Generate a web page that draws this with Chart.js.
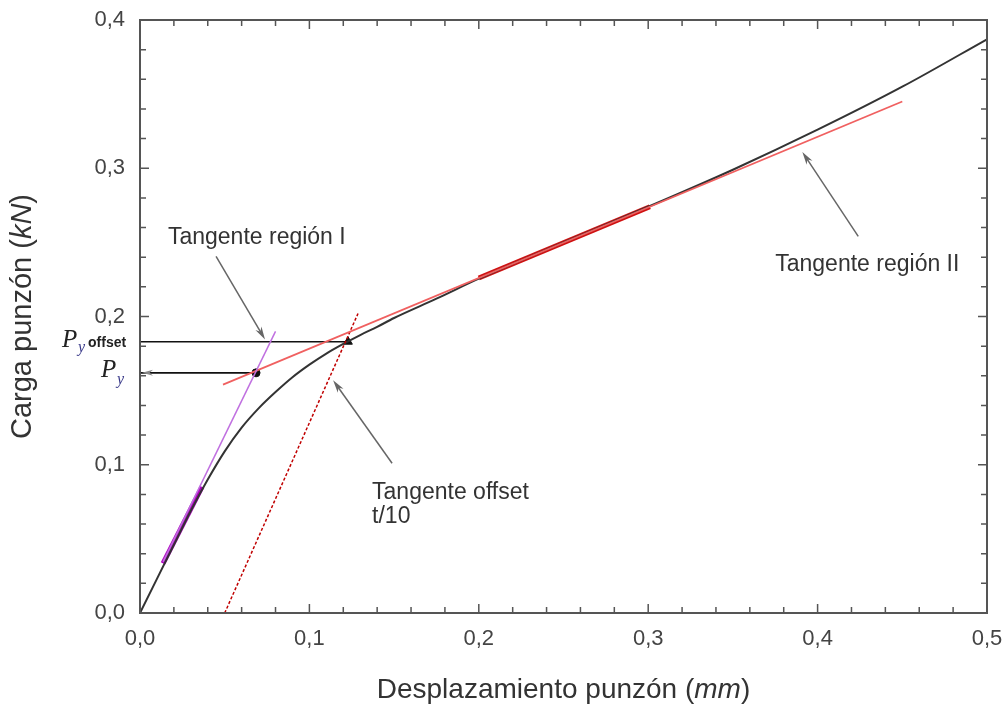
<!DOCTYPE html>
<html>
<head>
<meta charset="utf-8">
<script src="https://cdn.jsdelivr.net/npm/chart.js@4.4.0/dist/chart.umd.min.js"></script>
<style>
  html, body { margin: 0; padding: 0; background: #fff; }
  #wrap { width: 1006px; height: 704px; }
</style>
</head>
<body>
<div id="wrap"><canvas id="chart" width="1006" height="704"></canvas></div>
<script>
// load - displacement curve (mm, kN)
const curveX = [0, 0.01, 0.02, 0.03, 0.04, 0.05, 0.06, 0.07, 0.08, 0.09, 0.10, 0.11, 0.12, 0.13, 0.14, 0.15, 0.175, 0.20, 0.25, 0.30, 0.35, 0.40, 0.45, 0.50];
const curveY = [0, 0.023, 0.046, 0.069, 0.090, 0.109, 0.125, 0.138, 0.149, 0.159, 0.1675, 0.175, 0.1815, 0.1875, 0.193, 0.199, 0.212, 0.2255, 0.250, 0.274, 0.299, 0.326, 0.355, 0.387];

// tangent lines (end points)
const tanIX = [0.0136, 0.080];
const tanIY = [0.0345, 0.190];
const tanIFitX = [0.0136, 0.0366];
const tanIFitY = [0.0335, 0.085];
const tanIIX = [0.049, 0.45];
const tanIIY = [0.154, 0.345];
const tanIIFitX = [0.20, 0.301];
const tanIIFitY = [0.226, 0.274];
const offsetX = [0.05, 0.1287];
const offsetY = [0.0, 0.202];

// yield points
const pyX = 0.0685, pyY = 0.162;
const pyOffX = 0.1228, pyOffY = 0.183;

// annotation arrows: [fromX, fromY, toX, toY]
const arrowsFrom = [[0.0449, 0.2405], [0.1488, 0.101], [0.424, 0.254]];
const arrowsTo = [[0.0738, 0.1845], [0.114, 0.157], [0.391, 0.311]];

// annotation texts
const noteText = ['Tangente región I', 'Tangente offset', 't/10', 'Tangente región II'];
const noteX = [0.0165, 0.137, 0.137, 0.375];
const noteY = [0.253, 0.081, 0.065, 0.235];

const xTicks = [0, 0.1, 0.2, 0.3, 0.4, 0.5];
const yTicks = [0, 0.1, 0.2, 0.3, 0.4];

function pts(xs, ys) { return xs.map((x, i) => ({ x: x, y: ys[i] })); }
const fmt = v => v.toFixed(1).replace('.', ',');
const SANS = "'Liberation Sans', Arial, sans-serif";

function drawArrow(ctx, x1, y1, x2, y2, color, len, half, shaft) {
  const a = Math.atan2(y2 - y1, x2 - x1);
  ctx.save();
  ctx.strokeStyle = color;
  ctx.fillStyle = color;
  ctx.lineWidth = 1.5;
  if (shaft) {
    ctx.beginPath();
    ctx.moveTo(x1, y1);
    ctx.lineTo(x2 - Math.cos(a) * len * 0.5, y2 - Math.sin(a) * len * 0.5);
    ctx.stroke();
  }
  ctx.beginPath();
  ctx.moveTo(x2, y2);
  ctx.lineTo(x2 - Math.cos(a) * len - Math.sin(a) * half, y2 - Math.sin(a) * len + Math.cos(a) * half);
  ctx.lineTo(x2 - Math.cos(a) * len * 0.7, y2 - Math.sin(a) * len * 0.7);
  ctx.lineTo(x2 - Math.cos(a) * len + Math.sin(a) * half, y2 - Math.sin(a) * len - Math.cos(a) * half);
  ctx.closePath();
  ctx.fill();
  ctx.restore();
}

const decor = {
  id: 'decor',
  afterDatasetsDraw(chart) {
    const ctx = chart.ctx;
    const xs = chart.scales.x, ys = chart.scales.y;
    const a = chart.chartArea;
    ctx.save();

    // frame
    ctx.strokeStyle = '#555';
    ctx.lineWidth = 2;
    ctx.strokeRect(a.left, a.top, a.right - a.left, a.bottom - a.top);

    // inward ticks, minor every 0.02
    ctx.lineWidth = 1.5;
    ctx.beginPath();
    for (let i = 0; i <= 25; i++) {
      const px = xs.getPixelForValue(i * 0.02);
      const L = i % 5 === 0 ? 9 : 6;
      ctx.moveTo(px, a.bottom); ctx.lineTo(px, a.bottom - L);
      ctx.moveTo(px, a.top); ctx.lineTo(px, a.top + L);
    }
    for (let i = 0; i <= 20; i++) {
      const py = ys.getPixelForValue(i * 0.02);
      const L = i % 5 === 0 ? 9 : 6;
      ctx.moveTo(a.left, py); ctx.lineTo(a.left + L, py);
      ctx.moveTo(a.right, py); ctx.lineTo(a.right - L, py);
    }
    ctx.stroke();

    // arrows
    arrowsFrom.forEach((f, i) => {
      const t = arrowsTo[i];
      drawArrow(ctx, xs.getPixelForValue(f[0]), ys.getPixelForValue(f[1]),
        xs.getPixelForValue(t[0]), ys.getPixelForValue(t[1]), '#666', 13, 3.5, true);
    });
    // small head at axis end of the P_y line
    drawArrow(ctx, a.left + 20, ys.getPixelForValue(pyY), a.left + 2, ys.getPixelForValue(pyY), '#888', 11, 3, false);

    // notes
    ctx.fillStyle = '#333';
    ctx.font = '23px ' + SANS;
    ctx.textBaseline = 'middle';
    ctx.textAlign = 'left';
    noteText.forEach((t, i) => {
      ctx.fillText(t, xs.getPixelForValue(noteX[i]), ys.getPixelForValue(noteY[i]));
    });

    // P labels left of the axis
    const p1 = ys.getPixelForValue(pyOffY), p2 = ys.getPixelForValue(pyY);
    ctx.fillStyle = '#222';
    ctx.font = 'italic 25px "Liberation Serif", serif';
    ctx.fillText('P', 62, p1 - 1);
    ctx.fillText('P', 101, p2 - 2);
    ctx.fillStyle = '#3a3a8a';
    ctx.font = 'italic 16px "Liberation Serif", serif';
    ctx.fillText('y', 78, p1 + 6);
    ctx.fillText('y', 117, p2 + 7);
    ctx.fillStyle = '#222';
    ctx.font = 'bold 14px ' + SANS;
    ctx.fillText('offset', 88, p1 + 1);

    // axis titles with italic units
    function mixed(parts, size) {
      let w = 0;
      parts.forEach(p => { ctx.font = (p[1] ? 'italic ' : '') + size + 'px ' + SANS; w += ctx.measureText(p[0]).width; });
      return w;
    }
    function drawMixed(parts, size, x, y) {
      parts.forEach(p => {
        ctx.font = (p[1] ? 'italic ' : '') + size + 'px ' + SANS;
        ctx.fillText(p[0], x, y);
        x += ctx.measureText(p[0]).width;
      });
    }
    ctx.fillStyle = '#333';
    const xt = [['Desplazamiento punzón (', false], ['mm', true], [')', false]];
    const wx = mixed(xt, 28);
    drawMixed(xt, 28, (a.left + a.right) / 2 - wx / 2, 690);
    const yt = [['Carga punzón (', false], ['kN', true], [')', false]];
    const wy = mixed(yt, 29);
    ctx.translate(23, (a.top + a.bottom) / 2);
    ctx.rotate(-Math.PI / 2);
    drawMixed(yt, 29, -wy / 2, 0);
    ctx.restore();
  }
};

const line = (data, color, width, extra) => Object.assign({
  data: data, showLine: true, borderColor: color, backgroundColor: color,
  borderWidth: width, pointRadius: 0, fill: false
}, extra || {});

new Chart(document.getElementById('chart'), {
  type: 'scatter',
  data: {
    datasets: [
      line(pts(tanIX, tanIY), '#c070e0', 1.5),
      line(pts(tanIIX, tanIIY), '#f06060', 1.8),
      line(pts(offsetX, offsetY), '#c00000', 1.5, { borderDash: [3, 2] }),
      line(pts(curveX, curveY), '#333', 2, { cubicInterpolationMode: 'monotone' }),
      line(pts(tanIFitX, tanIFitY), '#b000c0', 5),
      line(pts(tanIIFitX, tanIIFitY), '#d01010', 5),
      line(pts([0, pyOffX], [pyOffY, pyOffY]), '#111', 1.6),
      line(pts([0, pyX], [pyY, pyY]), '#111', 1.6),
      { data: [{ x: pyX, y: pyY }], pointRadius: 4, pointBackgroundColor: '#111', pointBorderColor: '#111' },
      { data: [{ x: pyOffX, y: pyOffY }], pointStyle: 'triangle', pointRadius: 5, pointBackgroundColor: '#111', pointBorderColor: '#111' }
    ]
  },
  options: {
    responsive: false,
    animation: false,
    layout: { padding: { top: 20, right: 19, left: 0, bottom: 0 } },
    plugins: { legend: { display: false }, tooltip: { enabled: false } },
    scales: {
      x: {
        type: 'linear', min: 0, max: 0.5,
        grid: { display: false, drawTicks: false },
        border: { display: false },
        afterBuildTicks: s => { s.ticks = xTicks.map(v => ({ value: v })); },
        afterFit: s => { s.height = 91; s.paddingLeft = 0; s.paddingRight = 0; },
        ticks: { callback: fmt, padding: 13, color: '#444', font: { size: 22, family: SANS }, maxRotation: 0 }
      },
      y: {
        type: 'linear', min: 0, max: 0.4,
        grid: { display: false, drawTicks: false },
        border: { display: false },
        afterBuildTicks: s => { s.ticks = yTicks.map(v => ({ value: v })); },
        afterFit: s => { s.width = 140; s.paddingTop = 0; s.paddingBottom = 0; },
        ticks: { callback: fmt, padding: 15, color: '#444', font: { size: 22, family: SANS } }
      }
    }
  },
  plugins: [decor]
});
</script>
</body>
</html>
